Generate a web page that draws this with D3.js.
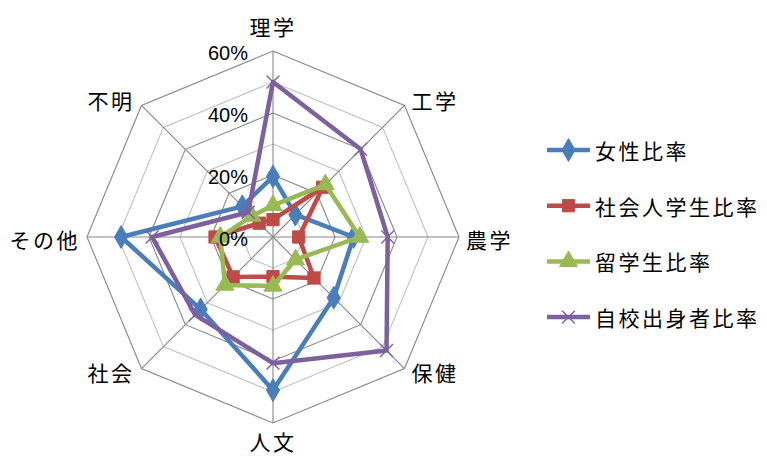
<!DOCTYPE html>
<html>
<head>
<meta charset="utf-8">
<script src="https://cdn.jsdelivr.net/npm/d3@7"></script>
<style>
  html, body { margin: 0; padding: 0; background: #fff; }
  svg { display: block; }
</style>
</head>
<body>
<svg id="chart" width="767" height="457"></svg>
<script>
// Axes of the radar, clockwise from the top
const categories = ['理学', '工学', '農学', '保健', '人文', '社会', 'その他', '不明'];

// Series values in percent
const femaleRatio   = [19.5, 10.2, 26.0, 27.7, 49.4, 33.0, 49.0, 14.0];
const adultRatio    = [5.6, 22.7, 8.3, 18.7, 12.8, 18.2, 18.7, 6.3];
const foreignRatio  = [10.2, 23.9, 28.0, 10.3, 15.8, 21.9, 17.0, 9.6];
const alumniRatio   = [50.0, 40.0, 37.0, 51.8, 40.7, 35.5, 39.0, 11.3];

const seriesNames = ['女性比率', '社会人学生比率', '留学生比率', '自校出身者比率'];

// Radial grid levels and labelled ticks
const gridLevels = [10, 20, 30, 40, 50, 60];
const tickLabels = ['0%', '20%', '40%', '60%'];
const tickValues = [0, 20, 40, 60];

const series = [
  { name: seriesNames[0], values: femaleRatio,  color: '#4A7EBB', marker: 'diamond' },
  { name: seriesNames[1], values: adultRatio,   color: '#BE4B48', marker: 'square' },
  { name: seriesNames[2], values: foreignRatio, color: '#98B954', marker: 'triangle' },
  { name: seriesNames[3], values: alumniRatio,  color: '#7D60A0', marker: 'cross' }
];

const svg = d3.select('#chart');
const cx = 273, cy = 237;
const r = d3.scaleLinear().domain([0, 60]).range([0, 186]);
const angle = d3.scalePoint().domain(categories).range([0, 2 * Math.PI * 7 / 8]);

const g = svg.append('g').attr('transform', `translate(${cx},${cy})`);

const pt = (cat, v) => {
  const a = angle(cat);
  return [Math.sin(a) * r(v), -Math.cos(a) * r(v)];
};

const ring = d3.lineRadial()
  .angle(d => angle(d.cat))
  .radius(d => r(d.v))
  .curve(d3.curveLinearClosed);

// Grid rings: darker on labelled levels, lighter in between
g.selectAll('path.grid')
  .data(gridLevels)
  .join('path')
  .attr('class', 'grid')
  .attr('d', lv => ring(categories.map(c => ({ cat: c, v: lv }))))
  .attr('fill', 'none')
  .attr('stroke', lv => lv % 20 === 0 ? '#878787' : '#C0C0C0')
  .attr('stroke-width', 1.1);

// Spokes
g.selectAll('line.spoke')
  .data(categories)
  .join('line')
  .attr('class', 'spoke')
  .attr('x1', 0).attr('y1', 0)
  .attr('x2', c => pt(c, 60)[0])
  .attr('y2', c => pt(c, 60)[1])
  .attr('stroke', '#878787')
  .attr('stroke-width', 1.1);

// Category labels
g.selectAll('text.cat')
  .data(categories)
  .join('text')
  .attr('class', 'cat')
  .each(function (c) {
    const a = angle(c);
    const s = Math.sin(a), co = Math.cos(a);
    const [x, y] = pt(c, 60);
    let anchor = 'middle', dx = 0, dy;
    if (Math.abs(s) < 0.01) {
      dy = co > 0 ? -25 : 18;
    } else {
      anchor = s > 0 ? 'start' : 'end';
      dx = s > 0 ? 7 : -7;
      dy = -co * 7 - 1 + (Math.abs(co) < 0.01 ? 3 : 0);
    }
    d3.select(this)
      .attr('x', x + dx)
      .attr('y', y + dy)
      .attr('text-anchor', anchor);
  })
  .attr('dominant-baseline', 'central')
  .attr('font-family', '"Noto Sans CJK JP", sans-serif')
  .attr('font-size', 21)
  .attr('letter-spacing', 2.5)
  .attr('fill', '#000')
  .text(c => c);

// Series lines
const line = d3.lineRadial()
  .angle((d, i) => angle(categories[i]))
  .radius(d => r(d))
  .curve(d3.curveLinearClosed);

const symbolFor = {
  diamond: d3.symbol().type(d3.symbolDiamond).size(150),
  square: d3.symbol().type(d3.symbolSquare).size(150),
  triangle: d3.symbol().type(d3.symbolTriangle).size(140),
  cross: d3.symbol().type(d3.symbolX).size(110)
};

function drawMarker(sel, s) {
  if (s.marker === 'cross') {
    sel.attr('d', symbolFor.cross())
      .attr('fill', 'none')
      .attr('stroke', s.color)
      .attr('stroke-width', 1.4);
  } else {
    sel.attr('d', symbolFor[s.marker]())
      .attr('fill', s.color)
      .attr('stroke', s.color)
      .attr('stroke-width', 1);
  }
}

series.forEach(s => {
  const sg = g.append('g');
  sg.append('path')
    .attr('d', line(s.values))
    .attr('fill', 'none')
    .attr('stroke', s.color)
    .attr('stroke-width', 4.5)
    .attr('stroke-linejoin', 'round');
  sg.selectAll('path.mk')
    .data(s.values)
    .join('path')
    .attr('class', 'mk')
    .attr('transform', (v, i) => {
      const [x, y] = pt(categories[i], v);
      return `translate(${x},${y})`;
    })
    .each(function () { drawMarker(d3.select(this), s); });
});

// Tick labels on the top spoke
g.selectAll('text.tick')
  .data(tickValues)
  .join('text')
  .attr('class', 'tick')
  .attr('x', -25)
  .attr('y', v => -r(v) + 2)
  .attr('text-anchor', 'end')
  .attr('dominant-baseline', 'central')
  .attr('font-family', '"Liberation Sans", Arial, sans-serif')
  .attr('font-size', 20)
  .attr('fill', '#000')
  .text((v, i) => tickLabels[i]);

// Legend
const legend = svg.append('g').attr('transform', 'translate(547,150)');
const rowGap = 55.7;
series.forEach((s, i) => {
  const row = legend.append('g').attr('transform', `translate(0,${i * rowGap})`);
  row.append('line')
    .attr('x1', 0).attr('x2', 43).attr('y1', 0).attr('y2', 0)
    .attr('stroke', s.color).attr('stroke-width', 4.5);
  row.append('path')
    .attr('transform', 'translate(21.5,0)')
    .call(sel => drawMarker(sel, s));
  row.append('text')
    .attr('x', 48)
    .attr('y', 0)
    .attr('dominant-baseline', 'central')
    .attr('font-family', '"Noto Sans CJK JP", sans-serif')
    .attr('font-size', 21)
    .attr('letter-spacing', 2.5)
    .attr('fill', '#000')
    .text(s.name);
});
</script>
</body>
</html>
